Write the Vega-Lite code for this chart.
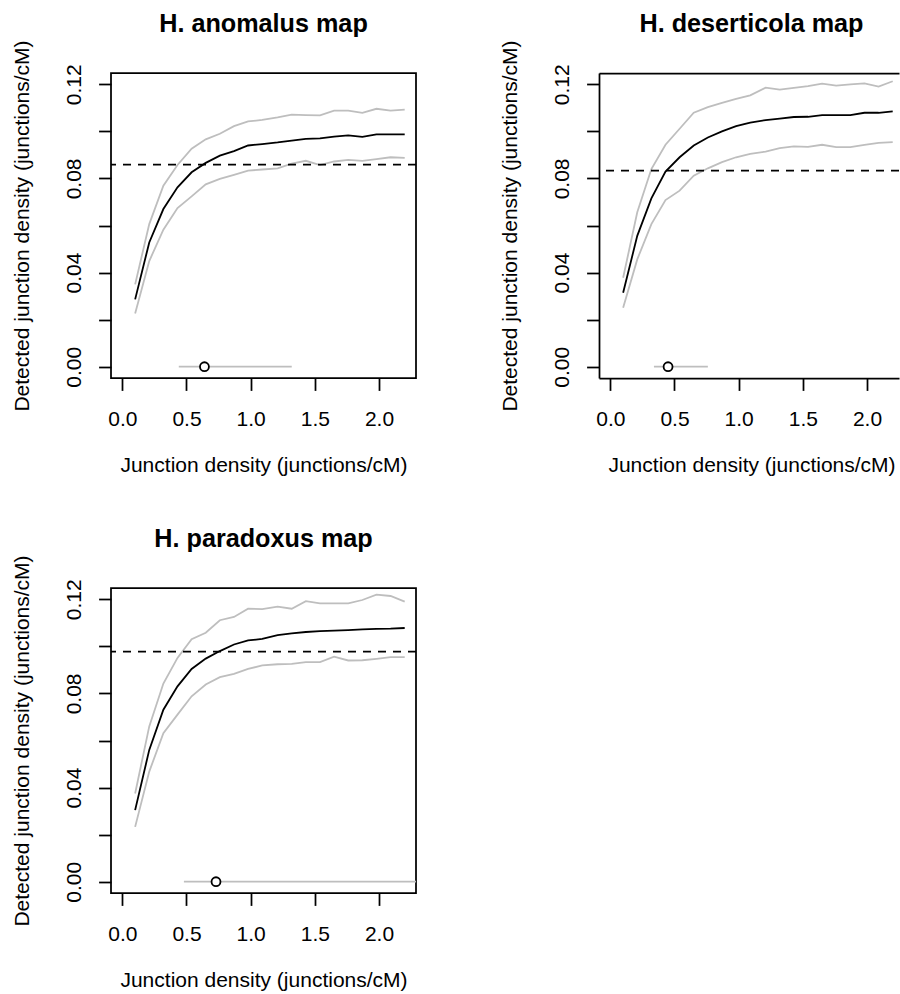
{
  "$schema": "https://vega.github.io/schema/vega-lite/v6.json",
  "padding": {"left": 10, "top": 11, "right": 0, "bottom": 3},
  "background": "white",
  "datasets": {
    "curves": [
      {"panel":"anomalus","x":0.10,"mean":0.0286,"upper":0.0350,"lower":0.0226},
      {"panel":"anomalus","x":0.21,"mean":0.0528,"upper":0.0606,"lower":0.0449},
      {"panel":"anomalus","x":0.32,"mean":0.0670,"upper":0.0769,"lower":0.0582},
      {"panel":"anomalus","x":0.43,"mean":0.0762,"upper":0.0857,"lower":0.0674},
      {"panel":"anomalus","x":0.54,"mean":0.0826,"upper":0.0926,"lower":0.0724},
      {"panel":"anomalus","x":0.65,"mean":0.0866,"upper":0.0966,"lower":0.0775},
      {"panel":"anomalus","x":0.76,"mean":0.0897,"upper":0.0990,"lower":0.0798},
      {"panel":"anomalus","x":0.87,"mean":0.0916,"upper":0.1022,"lower":0.0815},
      {"panel":"anomalus","x":0.98,"mean":0.0940,"upper":0.1042,"lower":0.0833},
      {"panel":"anomalus","x":1.09,"mean":0.0946,"upper":0.1049,"lower":0.0838},
      {"panel":"anomalus","x":1.21,"mean":0.0953,"upper":0.1059,"lower":0.0843},
      {"panel":"anomalus","x":1.32,"mean":0.0961,"upper":0.1071,"lower":0.0863},
      {"panel":"anomalus","x":1.43,"mean":0.0968,"upper":0.1069,"lower":0.0875},
      {"panel":"anomalus","x":1.54,"mean":0.0970,"upper":0.1068,"lower":0.0857},
      {"panel":"anomalus","x":1.65,"mean":0.0978,"upper":0.1088,"lower":0.0872},
      {"panel":"anomalus","x":1.76,"mean":0.0983,"upper":0.1088,"lower":0.0879},
      {"panel":"anomalus","x":1.87,"mean":0.0977,"upper":0.1079,"lower":0.0875},
      {"panel":"anomalus","x":1.98,"mean":0.0987,"upper":0.1096,"lower":0.0882},
      {"panel":"anomalus","x":2.09,"mean":0.0987,"upper":0.1088,"lower":0.0890},
      {"panel":"anomalus","x":2.20,"mean":0.0987,"upper":0.1092,"lower":0.0887},
      {"panel":"deserticola","x":0.10,"mean":0.0314,"upper":0.0378,"lower":0.0250},
      {"panel":"deserticola","x":0.21,"mean":0.0556,"upper":0.0656,"lower":0.0456},
      {"panel":"deserticola","x":0.32,"mean":0.0715,"upper":0.0840,"lower":0.0606},
      {"panel":"deserticola","x":0.43,"mean":0.0829,"upper":0.0943,"lower":0.0708},
      {"panel":"deserticola","x":0.54,"mean":0.0890,"upper":0.1011,"lower":0.0748},
      {"panel":"deserticola","x":0.65,"mean":0.0940,"upper":0.1079,"lower":0.0812},
      {"panel":"deserticola","x":0.76,"mean":0.0974,"upper":0.1103,"lower":0.0843},
      {"panel":"deserticola","x":0.87,"mean":0.1000,"upper":0.1121,"lower":0.0869},
      {"panel":"deserticola","x":0.98,"mean":0.1022,"upper":0.1138,"lower":0.0890},
      {"panel":"deserticola","x":1.09,"mean":0.1037,"upper":0.1153,"lower":0.0904},
      {"panel":"deserticola","x":1.21,"mean":0.1048,"upper":0.1186,"lower":0.0914},
      {"panel":"deserticola","x":1.32,"mean":0.1054,"upper":0.1177,"lower":0.0929},
      {"panel":"deserticola","x":1.43,"mean":0.1061,"upper":0.1185,"lower":0.0936},
      {"panel":"deserticola","x":1.54,"mean":0.1062,"upper":0.1192,"lower":0.0934},
      {"panel":"deserticola","x":1.65,"mean":0.1069,"upper":0.1203,"lower":0.0943},
      {"panel":"deserticola","x":1.76,"mean":0.1069,"upper":0.1194,"lower":0.0933},
      {"panel":"deserticola","x":1.87,"mean":0.1069,"upper":0.1200,"lower":0.0933},
      {"panel":"deserticola","x":1.98,"mean":0.1079,"upper":0.1204,"lower":0.0943},
      {"panel":"deserticola","x":2.09,"mean":0.1079,"upper":0.1190,"lower":0.0951},
      {"panel":"deserticola","x":2.20,"mean":0.1085,"upper":0.1213,"lower":0.0954},
      {"panel":"paradoxus","x":0.10,"mean":0.0304,"upper":0.0375,"lower":0.0233},
      {"panel":"paradoxus","x":0.21,"mean":0.0560,"upper":0.0660,"lower":0.0468},
      {"panel":"paradoxus","x":0.32,"mean":0.0731,"upper":0.0842,"lower":0.0631},
      {"panel":"paradoxus","x":0.43,"mean":0.0830,"upper":0.0951,"lower":0.0710},
      {"panel":"paradoxus","x":0.54,"mean":0.0904,"upper":0.1030,"lower":0.0788},
      {"panel":"paradoxus","x":0.65,"mean":0.0948,"upper":0.1058,"lower":0.0838},
      {"panel":"paradoxus","x":0.76,"mean":0.0980,"upper":0.1111,"lower":0.0869},
      {"panel":"paradoxus","x":0.87,"mean":0.1008,"upper":0.1125,"lower":0.0883},
      {"panel":"paradoxus","x":0.98,"mean":0.1025,"upper":0.1160,"lower":0.0904},
      {"panel":"paradoxus","x":1.09,"mean":0.1032,"upper":0.1158,"lower":0.0919},
      {"panel":"paradoxus","x":1.21,"mean":0.1048,"upper":0.1169,"lower":0.0924},
      {"panel":"paradoxus","x":1.32,"mean":0.1055,"upper":0.1160,"lower":0.0926},
      {"panel":"paradoxus","x":1.43,"mean":0.1061,"upper":0.1192,"lower":0.0933},
      {"panel":"paradoxus","x":1.54,"mean":0.1065,"upper":0.1183,"lower":0.0933},
      {"panel":"paradoxus","x":1.65,"mean":0.1067,"upper":0.1183,"lower":0.0956},
      {"panel":"paradoxus","x":1.76,"mean":0.1069,"upper":0.1183,"lower":0.0940},
      {"panel":"paradoxus","x":1.87,"mean":0.1072,"upper":0.1197,"lower":0.0941},
      {"panel":"paradoxus","x":1.98,"mean":0.1074,"upper":0.1220,"lower":0.0947},
      {"panel":"paradoxus","x":2.09,"mean":0.1075,"upper":0.1214,"lower":0.0954},
      {"panel":"paradoxus","x":2.20,"mean":0.1078,"upper":0.1190,"lower":0.0954}
    ],
    "refs": [
      {"panel":"anomalus","dens":0.0859,"est":0.64,"lo":0.44,"hi":1.32,"base":0},
      {"panel":"deserticola","dens":0.0833,"est":0.45,"lo":0.34,"hi":0.76,"base":0},
      {"panel":"paradoxus","dens":0.0978,"est":0.73,"lo":0.48,"hi":2.6,"base":0}
    ]
  },
  "columns": 2,
  "spacing": {"row": 210, "column": 183},
  "bounds": "flush",
  "concat": [
    {
      "width": 305, "height": 305,
      "title": {"text": "H. anomalus map"},
      "layer": [
        {
          "data": {"name": "curves"},
          "transform": [{"filter": "datum.panel == 'anomalus'"}, {"fold": ["lower", "upper"], "as": ["series", "val"]}],
          "mark": {"type": "line", "color": "#bebebe", "strokeWidth": 1.8},
          "encoding": {
            "x": {"field": "x", "type": "quantitative", "scale": {"domain": [-0.088, 2.288], "nice": false, "zero": false},
              "axis": {"orient": "bottom", "values": [0, 0.5, 1, 1.5, 2], "format": ".1f", "title": "Junction density (junctions/cM)", "grid": false, "domain": false, "ticks": true, "tickSize": 12.4, "tickWidth": 1.75, "tickColor": "black", "labelFont": "Liberation Sans", "labelFontSize": 21, "labelColor": "black", "labelPadding": 35, "labelAngle": 0, "labelAlign": "center", "labelBaseline": "alphabetic", "labelOverlap": false, "labelFlush": false, "titleFont": "Liberation Sans", "titleFontSize": 21, "titleFontWeight": "normal", "titleColor": "black", "titleX": 152.5, "titleY": 93, "titleAlign": "center", "titleBaseline": "alphabetic"}},
            "y": {"field": "val", "type": "quantitative", "scale": {"domain": [-0.0048, 0.1248], "nice": false, "zero": false},
              "axis": {"orient": "left", "values": [0, 0.02, 0.04, 0.06, 0.08, 0.1, 0.12], "format": ".2f", "labelExpr": "indexof(['0.00','0.04','0.08','0.12'], datum.label) >= 0 ? datum.label : ''", "title": "Detected junction density (junctions/cM)", "grid": false, "domain": false, "ticks": true, "tickSize": 12.4, "tickWidth": 1.75, "tickColor": "black", "labelFont": "Liberation Sans", "labelFontSize": 21, "labelColor": "black", "labelPadding": 18, "labelAngle": 270, "labelAlign": "center", "labelBaseline": "alphabetic", "labelOverlap": false, "labelFlush": false, "titleFont": "Liberation Sans", "titleFontSize": 21, "titleFontWeight": "normal", "titleColor": "black", "titleAngle": 270, "titleX": -83, "titleY": 152.5, "titleAlign": "center", "titleBaseline": "alphabetic"}},
            "detail": {"field": "series"}
          }
        },
        {
          "data": {"name": "curves"},
          "transform": [{"filter": "datum.panel == 'anomalus'"}],
          "mark": {"type": "line", "color": "black", "strokeWidth": 1.8},
          "encoding": {"x": {"field": "x", "type": "quantitative"}, "y": {"field": "mean", "type": "quantitative"}}
        },
        {
          "data": {"name": "refs"},
          "transform": [{"filter": "datum.panel == 'anomalus'"}],
          "mark": {"type": "rule", "color": "black", "strokeWidth": 1.8, "strokeDash": [8, 7]},
          "encoding": {"y": {"field": "dens", "type": "quantitative"}}
        },
        {
          "data": {"name": "refs"},
          "transform": [{"filter": "datum.panel == 'anomalus'"}],
          "mark": {"type": "rule", "color": "#bebebe", "strokeWidth": 1.8, "clip": true},
          "encoding": {"x": {"field": "lo", "type": "quantitative"}, "x2": {"field": "hi"}, "y": {"field": "base", "type": "quantitative"}}
        },
        {
          "data": {"name": "refs"},
          "transform": [{"filter": "datum.panel == 'anomalus'"}],
          "mark": {"type": "point", "shape": "circle", "fill": "white", "fillOpacity": 1, "stroke": "black", "strokeWidth": 1.8, "size": 80, "opacity": 1},
          "encoding": {"x": {"field": "est", "type": "quantitative"}, "y": {"field": "base", "type": "quantitative"}}
        }
      ]
    },
    {
      "width": 300, "height": 305,
      "view": {"stroke": null},
      "title": {"text": "H. deserticola map", "dx": 2.5},
      "resolve": {"axis": {"x": "independent"}},
      "layer": [
        {
          "data": {"name": "curves"},
          "transform": [{"filter": "datum.panel == 'deserticola'"}, {"fold": ["lower", "upper"], "as": ["series", "val"]}],
          "mark": {"type": "line", "color": "#bebebe", "strokeWidth": 1.8},
          "encoding": {
            "x": {"field": "x", "type": "quantitative", "scale": {"domain": [-0.088, 2.249], "nice": false, "zero": false},
              "axis": {"orient": "bottom", "values": [0, 0.5, 1, 1.5, 2], "format": ".1f", "title": "Junction density (junctions/cM)", "grid": false, "domain": true, "domainColor": "black", "domainWidth": 1.75, "ticks": true, "tickSize": 12.4, "tickWidth": 1.75, "tickColor": "black", "labelFont": "Liberation Sans", "labelFontSize": 21, "labelColor": "black", "labelPadding": 35, "labelAngle": 0, "labelAlign": "center", "labelBaseline": "alphabetic", "labelOverlap": false, "labelFlush": false, "titleFont": "Liberation Sans", "titleFontSize": 21, "titleFontWeight": "normal", "titleColor": "black", "titleX": 152.5, "titleY": 93, "titleAlign": "center", "titleBaseline": "alphabetic"}},
            "y": {"field": "val", "type": "quantitative", "scale": {"domain": [-0.0048, 0.1248], "nice": false, "zero": false},
              "axis": {"orient": "left", "values": [0, 0.02, 0.04, 0.06, 0.08, 0.1, 0.12], "format": ".2f", "labelExpr": "indexof(['0.00','0.04','0.08','0.12'], datum.label) >= 0 ? datum.label : ''", "title": "Detected junction density (junctions/cM)", "grid": false, "domain": true, "domainColor": "black", "domainWidth": 1.75, "ticks": true, "tickSize": 12.4, "tickWidth": 1.75, "tickColor": "black", "labelFont": "Liberation Sans", "labelFontSize": 21, "labelColor": "black", "labelPadding": 18, "labelAngle": 270, "labelAlign": "center", "labelBaseline": "alphabetic", "labelOverlap": false, "labelFlush": false, "titleFont": "Liberation Sans", "titleFontSize": 21, "titleFontWeight": "normal", "titleColor": "black", "titleAngle": 270, "titleX": -83, "titleY": 152.5, "titleAlign": "center", "titleBaseline": "alphabetic"}},
            "detail": {"field": "series"}
          }
        },
        {
          "data": {"name": "curves"},
          "transform": [{"filter": "datum.panel == 'deserticola'"}],
          "mark": {"type": "line", "color": "black", "strokeWidth": 1.8},
          "encoding": {
            "x": {"field": "x", "type": "quantitative", "axis": {"orient": "top", "domain": true, "domainColor": "black", "domainWidth": 1.75, "ticks": false, "labels": false, "grid": false, "title": null}},
            "y": {"field": "mean", "type": "quantitative"}
          }
        },
        {
          "data": {"name": "refs"},
          "transform": [{"filter": "datum.panel == 'deserticola'"}],
          "mark": {"type": "rule", "color": "black", "strokeWidth": 1.8, "strokeDash": [8, 7]},
          "encoding": {"y": {"field": "dens", "type": "quantitative"}}
        },
        {
          "data": {"name": "refs"},
          "transform": [{"filter": "datum.panel == 'deserticola'"}],
          "mark": {"type": "rule", "color": "#bebebe", "strokeWidth": 1.8, "clip": true},
          "encoding": {"x": {"field": "lo", "type": "quantitative", "axis": null}, "x2": {"field": "hi"}, "y": {"field": "base", "type": "quantitative"}}
        },
        {
          "data": {"name": "refs"},
          "transform": [{"filter": "datum.panel == 'deserticola'"}],
          "mark": {"type": "point", "shape": "circle", "fill": "white", "fillOpacity": 1, "stroke": "black", "strokeWidth": 1.8, "size": 80, "opacity": 1},
          "encoding": {"x": {"field": "est", "type": "quantitative", "axis": null}, "y": {"field": "base", "type": "quantitative"}}
        }
      ]
    },
    {
      "width": 305, "height": 305,
      "title": {"text": "H. paradoxus map"},
      "layer": [
        {
          "data": {"name": "curves"},
          "transform": [{"filter": "datum.panel == 'paradoxus'"}, {"fold": ["lower", "upper"], "as": ["series", "val"]}],
          "mark": {"type": "line", "color": "#bebebe", "strokeWidth": 1.8},
          "encoding": {
            "x": {"field": "x", "type": "quantitative", "scale": {"domain": [-0.088, 2.288], "nice": false, "zero": false},
              "axis": {"orient": "bottom", "values": [0, 0.5, 1, 1.5, 2], "format": ".1f", "title": "Junction density (junctions/cM)", "grid": false, "domain": false, "ticks": true, "tickSize": 12.4, "tickWidth": 1.75, "tickColor": "black", "labelFont": "Liberation Sans", "labelFontSize": 21, "labelColor": "black", "labelPadding": 35, "labelAngle": 0, "labelAlign": "center", "labelBaseline": "alphabetic", "labelOverlap": false, "labelFlush": false, "titleFont": "Liberation Sans", "titleFontSize": 21, "titleFontWeight": "normal", "titleColor": "black", "titleX": 152.5, "titleY": 93, "titleAlign": "center", "titleBaseline": "alphabetic"}},
            "y": {"field": "val", "type": "quantitative", "scale": {"domain": [-0.0048, 0.1248], "nice": false, "zero": false},
              "axis": {"orient": "left", "values": [0, 0.02, 0.04, 0.06, 0.08, 0.1, 0.12], "format": ".2f", "labelExpr": "indexof(['0.00','0.04','0.08','0.12'], datum.label) >= 0 ? datum.label : ''", "title": "Detected junction density (junctions/cM)", "grid": false, "domain": false, "ticks": true, "tickSize": 12.4, "tickWidth": 1.75, "tickColor": "black", "labelFont": "Liberation Sans", "labelFontSize": 21, "labelColor": "black", "labelPadding": 18, "labelAngle": 270, "labelAlign": "center", "labelBaseline": "alphabetic", "labelOverlap": false, "labelFlush": false, "titleFont": "Liberation Sans", "titleFontSize": 21, "titleFontWeight": "normal", "titleColor": "black", "titleAngle": 270, "titleX": -83, "titleY": 152.5, "titleAlign": "center", "titleBaseline": "alphabetic"}},
            "detail": {"field": "series"}
          }
        },
        {
          "data": {"name": "curves"},
          "transform": [{"filter": "datum.panel == 'paradoxus'"}],
          "mark": {"type": "line", "color": "black", "strokeWidth": 1.8},
          "encoding": {"x": {"field": "x", "type": "quantitative"}, "y": {"field": "mean", "type": "quantitative"}}
        },
        {
          "data": {"name": "refs"},
          "transform": [{"filter": "datum.panel == 'paradoxus'"}],
          "mark": {"type": "rule", "color": "black", "strokeWidth": 1.8, "strokeDash": [8, 7]},
          "encoding": {"y": {"field": "dens", "type": "quantitative"}}
        },
        {
          "data": {"name": "refs"},
          "transform": [{"filter": "datum.panel == 'paradoxus'"}],
          "mark": {"type": "rule", "color": "#bebebe", "strokeWidth": 1.8, "clip": true},
          "encoding": {"x": {"field": "lo", "type": "quantitative"}, "x2": {"field": "hi"}, "y": {"field": "base", "type": "quantitative"}}
        },
        {
          "data": {"name": "refs"},
          "transform": [{"filter": "datum.panel == 'paradoxus'"}],
          "mark": {"type": "point", "shape": "circle", "fill": "white", "fillOpacity": 1, "stroke": "black", "strokeWidth": 1.8, "size": 80, "opacity": 1},
          "encoding": {"x": {"field": "est", "type": "quantitative"}, "y": {"field": "base", "type": "quantitative"}}
        }
      ]
    }
  ],
  "config": {
    "font": "Liberation Sans",
    "view": {"stroke": "black", "strokeWidth": 1.75},
    "title": {"font": "Liberation Sans", "fontSize": 25.2, "fontWeight": "bold", "color": "black", "baseline": "alphabetic", "offset": 2.5, "anchor": "middle"}
  }
}
